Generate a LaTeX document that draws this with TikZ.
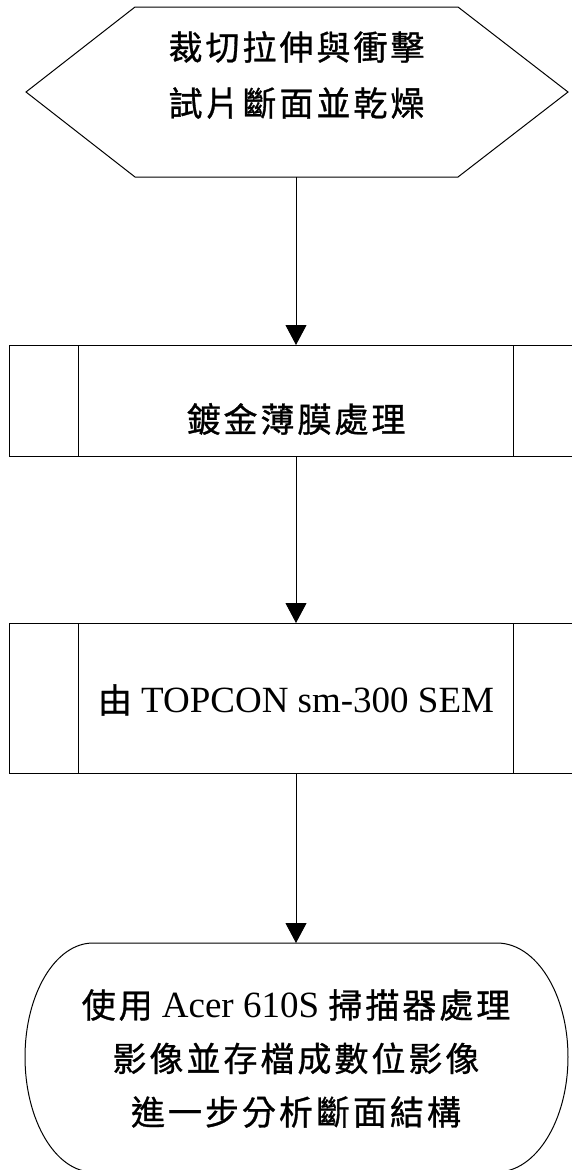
\documentclass[tikz,border=0pt]{standalone}
\usepackage{fontspec}
\setmainfont{Liberation Serif}
\newfontfamily\cjkfont{Noto Sans CJK TC}[LetterSpace=8.8,FakeBold=0.9]
\usetikzlibrary{arrows.meta}
\newcommand\zh[1]{{\cjkfont\fontsize{34}{40}\selectfont #1}}
\begin{document}
\begin{tikzpicture}[x=1pt,y=-1pt,line width=1pt,
  lbl/.style={inner sep=0pt,align=center,font=\fontsize{37}{56}\selectfont},
  lblt/.style={inner sep=0pt,align=center,font=\fontsize{37}{53.5}\selectfont},
  flowarrow/.style={-{Triangle[width=21pt,length=20pt]}}]
\useasboundingbox (0,0) rectangle (572,1170);
% hexagon (preparation)
\draw (135,7) -- (458,7) -- (568,92) -- (458,177) -- (135,177) -- (26,92) -- cycle;
\node[lbl] (prep) at (296.5,75) {\zh{裁切拉伸與衝擊}\\\zh{試片斷面並乾燥}};
\coordinate (prep-s) at (296,177);
% predefined process 1
\draw (9,345) rectangle (583,456);
\draw (78,345) -- (78,456);
\draw (513,345) -- (513,456);
\node[lbl] (coat) at (296,419) {\zh{鍍金薄膜處理}};
\coordinate (coat-n) at (296,345);
\coordinate (coat-s) at (296,456);
% predefined process 2
\draw (9,623) rectangle (583,773);
\draw (78,623) -- (78,773);
\draw (513,623) -- (513,773);
\node[lbl] (sem) at (296,700) {\zh{由} TOPCON sm-300 SEM};
\coordinate (sem-n) at (296,623);
\coordinate (sem-s) at (296,773);
% terminal
\draw (93,943) -- (497,943)
  .. controls (536.2,943) and (568,994) .. (568,1057)
  .. controls (568,1120) and (536.2,1172) .. (497,1172)
  -- (93,1172)
  .. controls (55.4,1172) and (25,1120) .. (25,1057)
  .. controls (25,994) and (55.4,943) .. (93,943) -- cycle;
\node[lblt] (scan) at (296,1058.5) {\zh{使用} Acer 610S \zh{掃描器處理}\\\zh{影像並存檔成數位影像}\\\zh{進一步分析斷面結構}};
\coordinate (scan-n) at (296,943);
% connectors
\draw[flowarrow] (prep-s) -- (coat-n);
\draw[flowarrow] (coat-s) -- (sem-n);
\draw[flowarrow] (sem-s) -- (scan-n);
\end{tikzpicture}
\end{document}
